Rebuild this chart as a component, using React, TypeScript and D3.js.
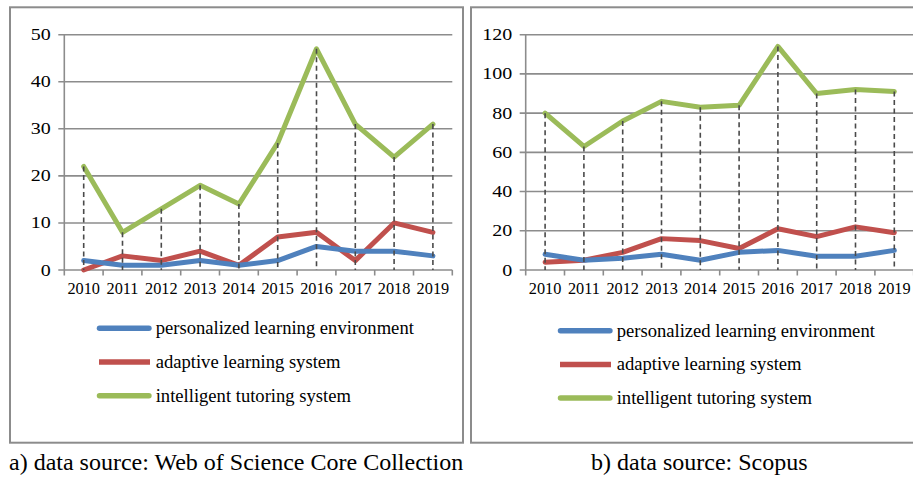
import React from "react";
import * as d3 from "d3";

const years = ["2010", "2011", "2012", "2013", "2014", "2015", "2016", "2017", "2018", "2019"];
const seriesNames = ["personalized learning environment", "adaptive learning system", "intelligent tutoring system"];

const wosPersonalized = [2, 1, 1, 2, 1, 2, 5, 4, 4, 3];
const wosAdaptive = [0, 3, 2, 4, 1, 7, 8, 2, 10, 8];
const wosIntelligent = [22, 8, 13, 18, 14, 27, 47, 31, 24, 31];

const scopusPersonalized = [8, 5, 6, 8, 5, 9, 10, 7, 7, 10];
const scopusAdaptive = [4, 5, 9, 16, 15, 11, 21, 17, 22, 19];
const scopusIntelligent = [80, 63, 76, 86, 83, 84, 114, 90, 92, 91];

const wosTicks = [0, 10, 20, 30, 40, 50];
const scopusTicks = [0, 20, 40, 60, 80, 100, 120];

const captions = ["a) data source: Web of Science Core Collection", "b) data source: Scopus"];

const COLORS = ["#4F81BD", "#C0504D", "#9BBB59"];
const FONT = "'Liberation Serif', 'Times New Roman', serif";

type PanelProps = {
  x0: number;
  ticks: number[];
  series: number[][];
  legendX: number;
  legendY: number;
};

function Panel({ x0, ticks, series, legendX, legendY }: PanelProps) {
  const x = d3.scaleBand<string>().domain(years).range([x0, x0 + 388]).padding(0);
  const y = d3.scaleLinear().domain([0, d3.max(ticks) as number]).range([270, 34.7]);
  const cx = (yr: string) => (x(yr) as number) + x.bandwidth() / 2;
  const line = d3
    .line<number>()
    .x((_, i) => cx(years[i]))
    .y((v) => y(v));
  const green = series[2];
  const gridColor = "#8c8c8c";
  const boundaries = years.map((yr) => x(yr) as number).concat([x0 + 388]);
  return (
    <g>
      {ticks.map((t) => (
        <g key={t}>
          <line x1={x0 - 6} x2={x0 + 388} y1={y(t)} y2={y(t)} stroke={gridColor} strokeWidth={1.6} />
          <text
            transform={`translate(${x0 - 13.5},${y(t) + 5.5}) scale(1.25,1)`}
            textAnchor="end"
            fontFamily={FONT}
            fontSize={16}
            fill="#000"
          >
            {t}
          </text>
        </g>
      ))}
      <line x1={x0} x2={x0} y1={y(ticks[ticks.length - 1])} y2={270} stroke={gridColor} strokeWidth={1.6} />
      {boundaries.map((bx, i) => (
        <line key={i} x1={bx} x2={bx} y1={270} y2={275.5} stroke={gridColor} strokeWidth={1.6} />
      ))}
      {years.map((yr) => (
        <text key={yr} x={cx(yr)} y={294} textAnchor="middle" fontFamily={FONT} fontSize={16.3} fill="#000">
          {yr}
        </text>
      ))}
      {[2, 1, 0].map((si) => (
        <path
          key={si}
          d={line(series[si]) as string}
          fill="none"
          stroke={COLORS[si]}
          strokeWidth={5}
          strokeLinejoin="round"
          strokeLinecap="round"
        />
      ))}
      {green.map((v, i) => (
        <line
          key={i}
          x1={cx(years[i])}
          x2={cx(years[i])}
          y1={y(v)}
          y2={270}
          stroke="#4a4a4a"
          strokeWidth={1.6}
          strokeDasharray="5,3.5"
        />
      ))}
      {seriesNames.map((name, i) => {
        const ly = legendY + i * 33.7;
        const round = i !== 1;
        return (
          <g key={name}>
            <line
              x1={round ? legendX + 2.8 : legendX + 2.3}
              x2={round ? legendX + 52.2 : legendX + 53.3}
              y1={ly}
              y2={ly}
              stroke={COLORS[i]}
              strokeWidth={5.5}
              strokeLinecap={round ? "round" : "butt"}
            />
            <text x={legendX + 59} y={ly + 6} fontFamily={FONT} fontSize={18.6} fill="#000">
              {name}
            </text>
          </g>
        );
      })}
    </g>
  );
}

export default function App() {
  return (
    <svg
      width={913}
      height={477}
      viewBox="0 0 913 477"
      style={{ position: "absolute", left: 0, top: 0, background: "#fff" }}
    >
      <rect x={0} y={0} width={913} height={477} fill="#fff" />
      <rect x={10} y={7.3} width={453} height={435.4} fill="none" stroke="#8c8c8c" strokeWidth={2} />
      <rect x={471} y={7.3} width={460} height={435.4} fill="none" stroke="#8c8c8c" strokeWidth={2} />
      <Panel
        x0={64.3}
        ticks={wosTicks}
        series={[wosPersonalized, wosAdaptive, wosIntelligent]}
        legendX={96.7}
        legendY={328.3}
      />
      <Panel
        x0={525.7}
        ticks={scopusTicks}
        series={[scopusPersonalized, scopusAdaptive, scopusIntelligent]}
        legendX={557.7}
        legendY={330.7}
      />
      <text x={9} y={470} fontFamily={FONT} fontSize={24} fill="#000">
        {captions[0]}
      </text>
      <text x={591} y={470} fontFamily={FONT} fontSize={24} fill="#000">
        {captions[1]}
      </text>
    </svg>
  );
}
